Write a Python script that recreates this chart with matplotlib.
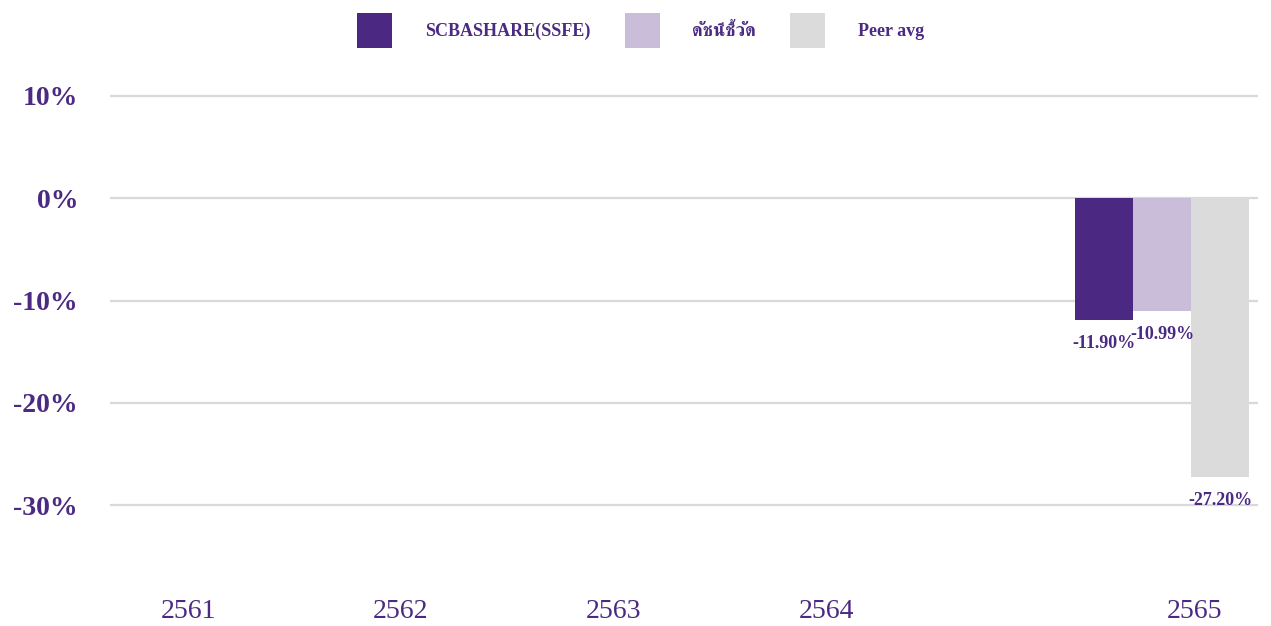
import matplotlib
matplotlib.use("Agg")
import matplotlib.pyplot as plt
import numpy as np

years = ["2561", "2562", "2563", "2564", "2565"]
series = ["SCBASHARE(SSFE)", "ดัชนีชี้วัด", "Peer avg"]
fund = [np.nan, np.nan, np.nan, np.nan, -11.90]
benchmark = [np.nan, np.nan, np.nan, np.nan, -10.99]
peer = [np.nan, np.nan, np.nan, np.nan, -27.20]
yticks = [-30, -20, -10, 0, 10]

colors = ["#4B2882", "#C9BDD9", "#DBDBDB"]
text_color = "#4A2A82"
fonts = ["Liberation Serif", "FreeSerif"]

plt.rcParams["font.family"] = fonts

fig = plt.figure(figsize=(12.71, 6.26), dpi=100)
ax = fig.add_axes([0.0866, 0.078, 0.9032, 0.802])

# tick positions; the last year sits a bit further right in the original
pos = np.arange(len(years), dtype=float)
pos[-1] += 0.73
group = pos - 0.15
width = 0.273

bars = []
for i, (vals, name) in enumerate(zip([fund, benchmark, peer], series)):
    b = ax.bar(group + (i - 1) * width, vals, width, color=colors[i], label=name, zorder=3)
    bars.append(b)
    for x, v in zip(group + (i - 1) * width, vals):
        if np.isfinite(v):
            ax.annotate(f"{v:.2f}%", (x, v), xytext=(0, -17), textcoords="offset points",
                        ha="center", va="center", fontsize=13, fontweight="bold",
                        color=text_color, zorder=4, annotation_clip=False)

ax.set_ylim(-37, 12)
ax.set_xlim(-0.367, 5.03)
ax.set_yticks(yticks)
ax.set_yticklabels([f"{t}%" for t in yticks], fontsize=20, fontweight="bold", color=text_color)
ax.set_xticks(pos)
ax.set_xticklabels(years, fontsize=20, color=text_color)
ax.tick_params(axis="y", length=0, pad=23)
ax.tick_params(axis="x", length=0, pad=16)
ax.grid(axis="y", color="#D9D9D9", linewidth=1.6, zorder=0)
for s in ax.spines.values():
    s.set_visible(False)

fig.legend(handles=bars, labels=series, loc="center", bbox_to_anchor=(0.504, 0.952),
           ncol=3, frameon=False, handlelength=1.94, handleheight=2.6,
           handletextpad=1.8, columnspacing=1.9, labelcolor=text_color,
           prop={"family": fonts, "weight": "bold", "size": 13})

fig.savefig("out.png")
